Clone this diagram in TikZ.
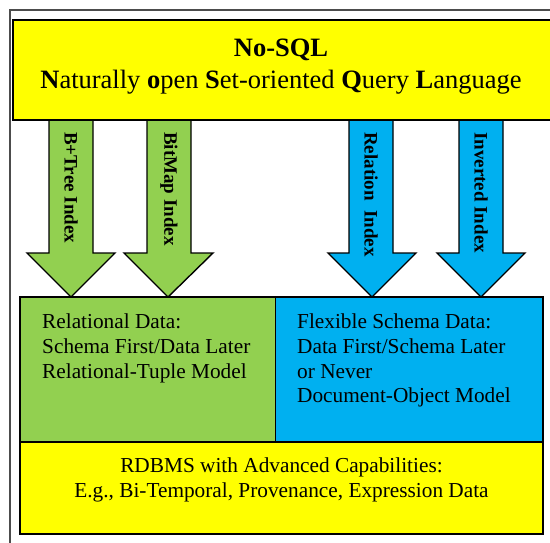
\documentclass[tikz,border=0pt]{standalone}
\usepackage{fontspec}
\setmainfont{Liberation Serif}
\begin{document}
\begin{tikzpicture}[x=1pt,y=-1pt,
  boxline/.style={draw=black,line width=1.6pt},
  frameline/.style={draw=black!70,line width=1.6pt},
  fatarrow/.style={draw=black,line width=1.4pt,line join=miter},
  arrowlabel/.style={rotate=-90,anchor=west,inner sep=0pt,
    font=\fontsize{19}{20}\selectfont\bfseries},
  bodytext/.style={inner sep=0pt,align=left,
    font=\fontsize{21.3}{24.8}\selectfont}]
\definecolor{hiyellow}{HTML}{FFFF00}
\definecolor{leafgreen}{HTML}{92D050}
\definecolor{skyblue}{HTML}{00B0F0}

\useasboundingbox (0,0) rectangle (550,542);

% outer frame, running off the right and bottom edges
\draw[frameline] (10,560) -- (10,10) -- (570,10);

% four index arrows: shaft left/right, head left/right, tip
\foreach \sl/\sr/\hl/\hr/\tx/\col in
  {49/93/27/115/71/leafgreen, 147/191/124/213/168/leafgreen,
   349/393/328/416/372/skyblue, 459/503/437/525/481/skyblue}{
  \filldraw[fatarrow,fill=\col]
    (\sl,118) -- (\sl,253) -- (\hl,253) -- (\tx,297) -- (\hr,253)
    -- (\sr,253) -- (\sr,118) -- cycle;
}

% query language banner
\filldraw[boxline,fill=hiyellow] (13,20) rectangle (556,120);
\node[font=\fontsize{26.5}{30}\selectfont\bfseries,anchor=base] (nosql)
  at (281,56) {No-SQL};
\node[font=\fontsize{26.5}{30}\selectfont,anchor=base] (nosqlname) at (281,88)
  {\textbf{N}aturally \textbf{o}pen \textbf{S}et-oriented \textbf{Q}uery \textbf{L}anguage};

% labels inside the arrows
\node[arrowlabel] (lbtree) at (71,132) {B+Tree Index};
\node[arrowlabel] (lbitmap) at (169,132) {BitMap Index};
\node[arrowlabel] (lrel) at (371,132) {Relation\ \ Index};
\node[arrowlabel] (linv) at (481,132) {Inverted Index};

% data model boxes
\filldraw[boxline,fill=leafgreen] (20,297) rectangle (275.5,442);
\filldraw[boxline,fill=skyblue] (275.5,297) rectangle (543,442);
\filldraw[boxline,fill=hiyellow] (20,442) rectangle (543,534);

\node[bodytext,anchor=north west] (relational) at (42,313.5)
  {Relational Data:\\Schema First/Data Later\\Relational-Tuple Model};
\node[bodytext,anchor=north west] (flexible) at (297,313.5)
  {Flexible Schema Data:\\Data First/Schema Later\\or Never\\Document-Object Model};
\node[bodytext,align=center,anchor=north] (rdbms) at (281.5,457.5)
  {RDBMS with Advanced Capabilities:\\E.g., Bi-Temporal, Provenance, Expression Data};
\end{tikzpicture}
\end{document}
